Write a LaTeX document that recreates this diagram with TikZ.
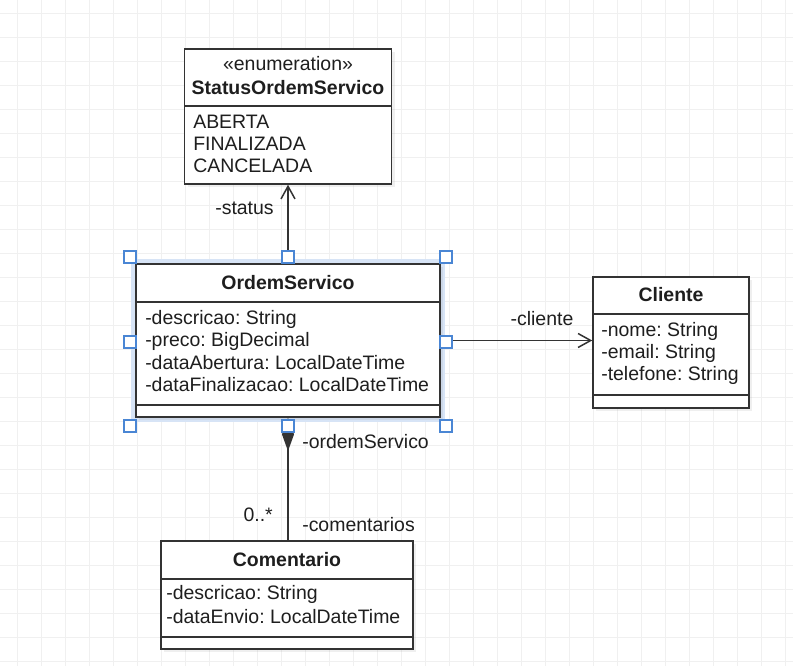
\documentclass[tikz,border=0pt]{standalone}
\usepackage{fontspec}
\setmainfont{Liberation Sans}
\usetikzlibrary{arrows.meta,shadows}

\newlength\px
\setlength\px{0.75pt}
\newcommand\umlfont{\fontsize{14.6}{16.5}\selectfont}
\frenchspacing

\definecolor{umlline}{HTML}{333333}
\definecolor{umltext}{HTML}{1E1E1E}
\definecolor{gridgray}{HTML}{F0F0F0}
\definecolor{selblue}{RGB}{74,134,212}

\tikzset{
  classbox/.style={draw=umlline, fill=white, line width=1.5*\px, inner sep=0,
    drop shadow={shadow xshift=3*\px, shadow yshift=-3*\px, opacity=0.12}},
  divider/.style={draw=umlline, line width=1.5*\px},
  attr/.style={anchor=west, inner sep=0, font=\umlfont, text=umltext},
  classname/.style={inner sep=0, font=\umlfont\bfseries, text=umltext},
  rolelabel/.style={inner sep=0, font=\umlfont, text=umltext},
  assoc/.style={draw=umlline, line width=1.5*\px,
    -{Straight Barb[length=9.5pt, width=10.5pt]}},
  compo/.style={draw=umlline, line width=1.5*\px,
    -{Diamond[length=25pt, width=9pt]}},
  gridline/.style={draw=gridgray, line width=1*\px},
  handle/.style={draw=selblue, fill=white, inner sep=0, minimum size=12*\px, line width=1.3*\px},
}

\begin{document}
\begin{tikzpicture}[x=0.75pt, y=-0.75pt]
\useasboundingbox (0,0) rectangle (793,666);
\fill[white] (0,0) rectangle (793,666);

% grid
\foreach \x in {17.5,41.5,...,786} \draw[gridline] (\x,0) -- (\x,666);
\foreach \y in {13.3,37.3,...,662} \draw[gridline] (0,\y) -- (793,\y);

% classes
\node[classbox, minimum width=207*\px, minimum height=135*\px] (status) at (288,116.5) {};
\draw[divider] (184.5,106) -- (391.5,106);
\node[rolelabel] (statusster) at (288,64) {«enumeration»};
\node[classname] (statusname) at (288,88) {StatusOrdemServico};
\node[attr] (aberta) at (193,122) {ABERTA};
\node[attr] (finalizada) at (193,144) {FINALIZADA};
\node[attr] (cancelada) at (193,166) {CANCELADA};

% selection glow
\draw[selblue!22, line width=6*\px] (134,262) rectangle (442,419);

\node[classbox, minimum width=304*\px, minimum height=153*\px] (ordem) at (288,340.5) {};
\draw[divider] (136,302) -- (440,302);
\draw[divider] (136,405) -- (440,405);
\node[classname] (ordemname) at (288,283) {OrdemServico};
\node[attr] (descricao) at (145,319) {-descricao: String};
\node[attr] (preco) at (145,341) {-preco: BigDecimal};
\node[attr] (abertura) at (145,363) {-dataAbertura: LocalDateTime};
\node[attr] (finalizacao) at (145,385) {-dataFinalizacao: LocalDateTime};

\node[classbox, minimum width=156*\px, minimum height=131*\px] (cliente) at (671,342.5) {};
\draw[divider] (593,314) -- (749,314);
\draw[divider] (593,395) -- (749,395);
\node[classname] (clientename) at (671,295) {Cliente};
\node[attr] (nome) at (601,331) {-nome: String};
\node[attr] (email) at (601,353) {-email: String};
\node[attr] (telefone) at (601,375) {-telefone: String};

\node[classbox, minimum width=252*\px, minimum height=108*\px] (coment) at (287,595) {};
\draw[divider] (161,579) -- (413,579);
\draw[divider] (161,637) -- (413,637);
\node[classname] (comentname) at (287,560) {Comentario};
\node[attr] (cdescricao) at (166,594) {-descricao: String};
\node[attr] (envio) at (166,617) {-dataEnvio: LocalDateTime};

% connectors
\draw[assoc] (ordem.north) -- (status.south);
\draw[assoc] (ordem.east) -- (cliente.west |- ordem.east);
\draw[compo] (ordem.south |- coment.north) -- (ordem.south);

% role labels
\node[rolelabel] (lstatus) at (244.5,208) {-status};
\node[rolelabel] (lcliente) at (542,319) {-cliente};
\node[rolelabel, anchor=west] (lordem) at (302,442) {-ordemServico};
\node[rolelabel, anchor=east] (lmult) at (273,515) {0..*};
\node[rolelabel, anchor=west] (lcoment) at (302,525) {-comentarios};

% selection handles
\foreach \hx/\hy [count=\i] in {130/257,288/257,446/257,130/342,446/342,130/426,288/426,446/426}
  \node[handle] (h\i) at (\hx,\hy) {};
\end{tikzpicture}
\end{document}
